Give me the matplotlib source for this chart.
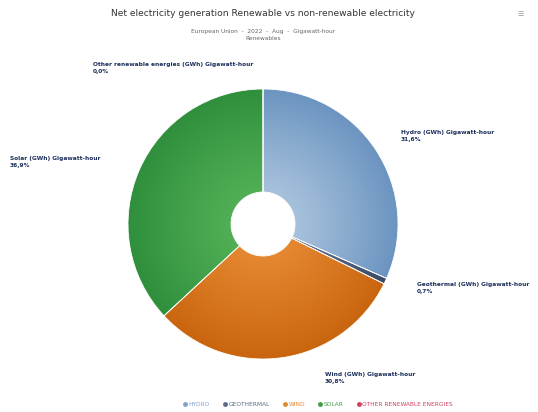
import numpy as np
import matplotlib
matplotlib.use("Agg")
import matplotlib.pyplot as plt
from matplotlib.patches import Wedge
from matplotlib.colors import to_rgb

categories = ["Hydro", "Geothermal", "Wind", "Solar", "Other renewable energies"]
shares = [31.6, 0.7, 30.8, 36.9, 0.0]
labels = [
    "Hydro (GWh) Gigawatt-hour\n31,6%",
    "Geothermal (GWh) Gigawatt-hour\n0,7%",
    "Wind (GWh) Gigawatt-hour\n30,8%",
    "Solar (GWh) Gigawatt-hour\n36,9%",
    "Other renewable energies (GWh) Gigawatt-hour\n0,0%",
]
legend_names = ["HYDRO", "GEOTHERMAL", "WIND", "SOLAR", "OTHER RENEWABLE ENERGIES"]
inner_colors = ["#b4cbe2", "#6f7f9a", "#ea8f38", "#58b55a", "#e0607a"]
outer_colors = ["#6b94c0", "#3a4a66", "#c9650e", "#2f8f3c", "#b0304a"]
legend_colors = ["#7fa4cc", "#5b6b86", "#e08a30", "#3e9e45", "#d04060"]

W, H = 538, 412
fig = plt.figure(figsize=(W / 100, H / 100), dpi=100)
cx, cy, R = 263, 224, 135
ax = fig.add_axes([(cx - R) / W, (H - cy - R) / H, 2 * R / W, 2 * R / H])

wedges, _ = ax.pie(shares, startangle=90, counterclock=False, radius=1,
                   colors=inner_colors,
                   wedgeprops=dict(width=1 - 32 / 135, edgecolor="white", linewidth=0.6))
ax.set_xlim(-1, 1)
ax.set_ylim(-1, 1)
ax.set_aspect("equal")
ax.axis("off")

n = 400
xs = np.linspace(-1, 1, n)
X, Y = np.meshgrid(xs, xs)
rr = np.clip(np.sqrt(X ** 2 + Y ** 2), 0, 1)
for w, ci, co in zip(wedges, inner_colors, outer_colors):
    a = np.array(to_rgb(ci))
    b = np.array(to_rgb(co))
    t = rr[..., None] ** 1.2
    img = a * (1 - t) + b * t
    im = ax.imshow(img, extent=(-1, 1, -1, 1), origin="lower", zorder=1.5,
                   interpolation="bilinear")
    im.set_clip_path(w)
    w.set_zorder(1)
for w in wedges:
    p = Wedge(w.center, w.r, w.theta1, w.theta2, width=w.width,
              facecolor="none", edgecolor="white", linewidth=0.6, zorder=2)
    ax.add_patch(p)
ax.set_xlim(-1, 1)
ax.set_ylim(-1, 1)

label_pos = [(401, 136), (417, 288), (325, 378), (10, 162), (93, 68)]
for (lx, ly), txt in zip(label_pos, labels):
    fig.text(lx / W, 1 - ly / H, txt, fontsize=4.2, fontweight="bold",
             color="#1a2d5a", ha="left", va="center", linespacing=1.3)

fig.text(263 / W, 1 - 14 / H, "Net electricity generation Renewable vs non-renewable electricity",
         fontsize=6.6, color="#333333", ha="center", va="center")
fig.text(263 / W, 1 - 31 / H, "European Union  -  2022  -  Aug  -  Gigawatt-hour",
         fontsize=4.2, color="#666666", ha="center", va="center")
fig.text(263 / W, 1 - 39 / H, "Renewables", fontsize=4.2, color="#666666",
         ha="center", va="center")
fig.text(520 / W, 1 - 14 / H, "\u2630", fontsize=5, color="#999999", ha="center", va="center")

handles = [plt.Line2D([], [], marker="o", linestyle="none", markersize=2.5,
                      markerfacecolor=c, markeredgecolor=c) for c in legend_colors]
leg = fig.legend(handles, legend_names, loc="center", bbox_to_anchor=(318 / W, 1 - 404 / H),
                 ncol=5, frameon=False, fontsize=4.2, handletextpad=0.2, columnspacing=2.2,
                 handlelength=0.8)
for t, c in zip(leg.get_texts(), legend_colors):
    t.set_color(c)

fig.savefig("out.png", dpi=100)
